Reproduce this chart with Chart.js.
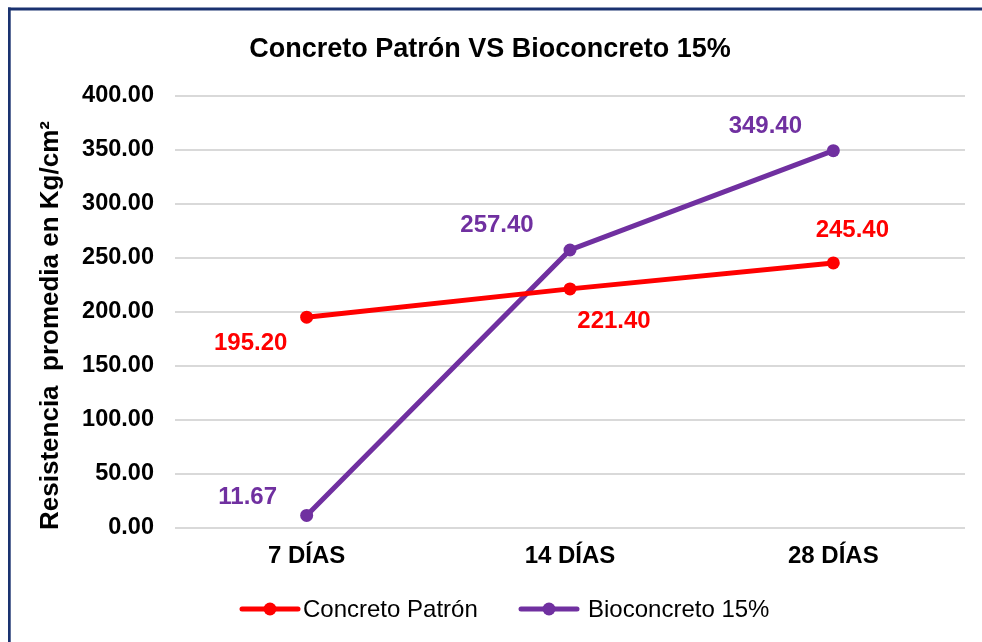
<!DOCTYPE html>
<html>
<head>
<meta charset="utf-8">
<script src="https://cdn.jsdelivr.net/npm/chart.js@4"></script>
<style>
html,body{margin:0;padding:0;background:#fff;}
#wrap{position:relative;width:982px;height:642px;}
</style>
</head>
<body>
<div id="wrap"><canvas id="c" width="982" height="642"></canvas></div>
<script>
const chartTitle = "Concreto Patrón VS Bioconcreto 15%";
const yAxisTitle = "Resistencia  promedia en Kg/cm²";
const categories = ["7 DÍAS", "14 DÍAS", "28 DÍAS"];
const seriesNames = ["Concreto Patrón", "Bioconcreto 15%"];
const patronValues = [195.20, 221.40, 245.40];
const bioValues = [11.67, 257.40, 349.40];
const yTicks = [0, 50, 100, 150, 200, 250, 300, 350, 400];

const COLORS = ["#FF0000", "#7030A0"];
// label offsets (px) relative to each point, per series
const labelOffsets = [
  [[-56, 25], [44, 31], [19, -34]],
  [[-59, -19], [-73, -26], [-68, -25]]
];
const legendPos = [{x1: 242, x2: 298, tx: 303}, {x1: 521, x2: 577, tx: 588}];
const FONT = '"Liberation Sans", Arial, sans-serif';

const decor = {
  id: 'decor',
  afterDraw(chart) {
    const ctx = chart.ctx;
    ctx.save();
    // border (left + top)
    ctx.fillStyle = '#1A3270';
    ctx.fillRect(8, 7.5, 982 - 8, 3);
    ctx.fillRect(8, 7.5, 2.7, 642);
    // title
    ctx.fillStyle = '#000';
    ctx.font = 'bold 27px ' + FONT;
    ctx.textAlign = 'center';
    ctx.textBaseline = 'alphabetic';
    ctx.fillText(chartTitle, 490, 57);
    // y axis title
    ctx.save();
    ctx.translate(58, 325.5);
    ctx.rotate(-Math.PI / 2);
    ctx.font = 'bold 26px ' + FONT;
    ctx.textAlign = 'center';
    ctx.textBaseline = 'alphabetic';
    ctx.fillText(yAxisTitle, 0, 0);
    ctx.restore();
    // data labels
    ctx.font = 'bold 24px ' + FONT;
    ctx.textAlign = 'center';
    ctx.textBaseline = 'middle';
    chart.data.datasets.forEach((ds, i) => {
      const meta = chart.getDatasetMeta(i);
      meta.data.forEach((pt, j) => {
        const off = labelOffsets[i][j];
        ctx.fillStyle = COLORS[i];
        ctx.fillText(ds.data[j].toFixed(2), pt.x + off[0], pt.y + off[1] + 1);
      });
    });
    // legend
    const ly = 609;
    chart.data.datasets.forEach((ds, i) => {
      const p = legendPos[i];
      ctx.strokeStyle = COLORS[i];
      ctx.lineWidth = 5;
      ctx.lineCap = 'round';
      ctx.beginPath();
      ctx.moveTo(p.x1, ly);
      ctx.lineTo(p.x2, ly);
      ctx.stroke();
      ctx.fillStyle = COLORS[i];
      ctx.beginPath();
      ctx.arc((p.x1 + p.x2) / 2, ly, 6.5, 0, Math.PI * 2);
      ctx.fill();
      ctx.fillStyle = '#000';
      ctx.font = '24px ' + FONT;
      ctx.textAlign = 'left';
      ctx.textBaseline = 'middle';
      ctx.fillText(ds.label, p.tx, ly + 1);
    });
    ctx.restore();
  }
};

new Chart(document.getElementById('c'), {
  type: 'line',
  data: {
    labels: categories,
    datasets: [
      {label: seriesNames[0], data: patronValues, borderColor: COLORS[0], backgroundColor: COLORS[0],
       borderWidth: 5, pointRadius: 6.5, pointBorderWidth: 0, pointBackgroundColor: COLORS[0], tension: 0},
      {label: seriesNames[1], data: bioValues, borderColor: COLORS[1], backgroundColor: COLORS[1],
       borderWidth: 5, pointRadius: 6.5, pointBorderWidth: 0, pointBackgroundColor: COLORS[1], tension: 0}
    ]
  },
  options: {
    responsive: false,
    animation: false,
    devicePixelRatio: 1,
    layout: {padding: {top: 96, right: 17, bottom: 0, left: 0}},
    plugins: {legend: {display: false}, title: {display: false}, tooltip: {enabled: false}},
    scales: {
      x: {
        offset: true,
        grid: {display: false, drawTicks: false},
        border: {display: false},
        ticks: {color: '#000', font: {family: FONT, size: 24, weight: 'bold'}, padding: 14, maxRotation: 0},
        afterFit(s) { s.height = 114; }
      },
      y: {
        min: 0, max: 400,
        afterBuildTicks(s) { s.ticks = yTicks.map(v => ({value: v})); },
        grid: {color: '#D9D9D9', lineWidth: 2, drawTicks: false},
        border: {display: false},
        ticks: {color: '#000', font: {family: FONT, size: 23.5, weight: 'bold'}, padding: 21,
                callback: v => Number(v).toFixed(2)},
        afterFit(s) { s.width = 175; }
      }
    }
  },
  plugins: [decor]
});
</script>
</body>
</html>
